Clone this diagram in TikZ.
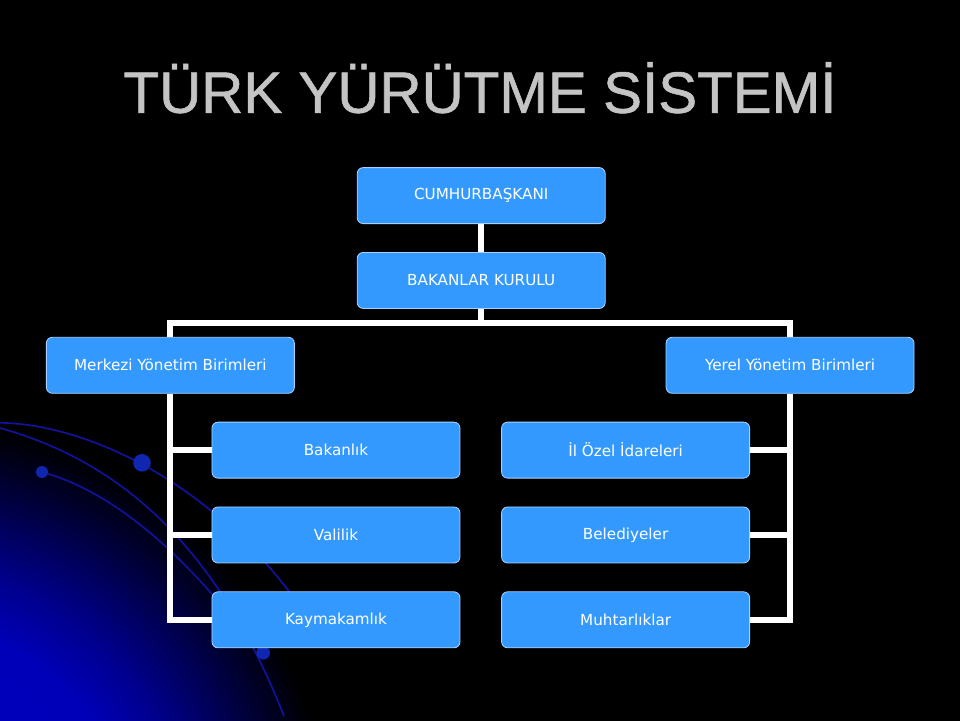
\documentclass[tikz,border=0pt]{standalone}
\usepackage{fontspec}
\setmainfont{DejaVu Sans}
\newfontfamily\baslikfont[RawFeature={embolden=1.0}]{Liberation Sans}
\usetikzlibrary{positioning}
\definecolor{kutu}{HTML}{3399FF}
\definecolor{kenar}{HTML}{A8D0FF}
\definecolor{baslikgri}{HTML}{C4C4C4}
\definecolor{egri}{HTML}{12129C}
\definecolor{nokta}{HTML}{1026B0}
\pgfdeclareradialshading{parilti}{\pgfpoint{0bp}{0bp}}{color(0bp)=(blue!78!black); color(4.8bp)=(blue!72!black); color(6bp)=(blue!55!black); color(7.2bp)=(blue!33!black); color(8.2bp)=(blue!14!black); color(9bp)=(black); color(50bp)=(black)}

\begin{document}
\begin{tikzpicture}[
    unit/.style={draw=kenar, line width=0.6pt, fill=kutu, rounded corners=0.15cm,
        minimum width=6.2cm, minimum height=1.4cm, text=white,
        font=\fontsize{10.8}{12}\selectfont},
    link/.style={draw=white, line width=4.2pt},
    curveline/.style={draw=egri, line width=1.2pt},
    bead/.style={fill=nokta}]
            \useasboundingbox (0,0) rectangle (24,18);
            \fill[black] (0,0) rectangle (24,18);

            % mavi parıltı
            \begin{scope}
                \clip (0,0) rectangle (24,18);
                \shade[shading=parilti] (-32.5,-33.25) rectangle (27.5,26.75);
            \end{scope}

            % eğriler
            \draw[curveline] (0,7.43) .. controls (2.2,7.4) and (5.4,5.9) .. (7.6,2.7);
            \draw[curveline] (0,7.3) .. controls (2.5,6.6) and (5.2,4.9) .. (7.1,0.1);
            \draw[curveline] (1.05,6.2) .. controls (2.5,5.8) and (4.0,4.7) .. (5.6,2.8);
            \fill[bead] (3.55,6.43) circle (0.22);
            \fill[bead] (1.05,6.2) circle (0.15);
            \fill[bead] (6.58,1.68) circle (0.17);

            % başlık
            \node[font=\baslikfont\fontsize{41.5}{48}\selectfont, text=baslikgri, anchor=base]
                (baslik) at (12,15.18) {TÜRK YÜRÜTME SİSTEMİ};

            % kutular
            \node[unit] (cumhur) at (12.03,13.11) {CUMHURBAŞKANI};
            \node[unit, below=0.7cm of cumhur] (kurul) {BAKANLAR KURULU};
            \node[unit, below left=0.7cm and 1.55cm of kurul] (merkezi) {Merkezi Yönetim Birimleri};
            \node[unit, below right=0.7cm and 1.5cm of kurul] (yerel) {Yerel Yönetim Birimleri};

            \node[unit, anchor=north west] (bakanlik) at ([xshift=1.03cm, yshift=-0.7cm]merkezi.south) {Bakanlık};
            \node[unit, below=0.7cm of bakanlik] (valilik) {Valilik};
            \node[unit, below=0.7cm of valilik] (kaymakam) {Kaymakamlık};

            \node[unit, anchor=north east] (ilozel) at ([xshift=-1.0cm, yshift=-0.7cm]yerel.south) {İl Özel İdareleri};
            \node[unit, below=0.7cm of ilozel] (belediye) {Belediyeler};
            \node[unit, below=0.7cm of belediye] (muhtar) {Muhtarlıklar};

            % bağlantılar
            \coordinate (kol) at ([yshift=-0.35cm]kurul.south);
            \draw[link] (cumhur) -- (kurul);
            \draw[link] (kurul.south) -- (kol);
            \draw[link] (merkezi.north) |- (kol) -| (yerel.north);

            \draw[link] (merkezi.south) |- (kaymakam.west);
            \draw[link] (merkezi.south |- bakanlik.west) -- (bakanlik.west);
            \draw[link] (merkezi.south |- valilik.west) -- (valilik.west);

            \draw[link] (yerel.south) |- (muhtar.east);
            \draw[link] (yerel.south |- ilozel.east) -- (ilozel.east);
            \draw[link] (yerel.south |- belediye.east) -- (belediye.east);
        \end{tikzpicture}
\end{document}
